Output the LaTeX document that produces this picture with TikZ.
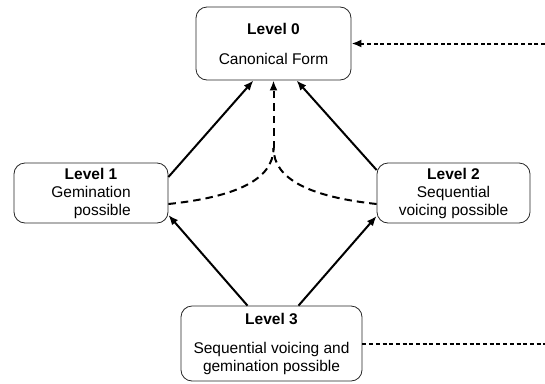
\documentclass[tikz,border=0pt]{standalone}
\usepackage{fontspec}
\setmainfont{Liberation Sans}
\usetikzlibrary{arrows.meta}

\begin{document}
\begin{tikzpicture}[x=1pt,y=-1pt,
    level/.style={draw=black!85,line width=0.8pt,rounded corners=11pt,align=center,
        inner sep=0pt,font=\fontsize{15.5}{18}\selectfont},
    solidarrow/.style={-{Latex[length=10pt,width=8pt]},line width=2pt},
    dasharrow/.style={line width=2pt,dash pattern=on 7.5pt off 5pt},
    dotarrow/.style={line width=2pt,dash pattern=on 4pt off 2.7pt}]
    \useasboundingbox (0,0) rectangle (545,383);

    % Levels
    \node[level,minimum width=155pt,minimum height=73pt] (lvl0) at (273.5,43.5)
        {\textbf{Level 0}\\[12pt]Canonical Form};
    \node[level,minimum width=154pt,minimum height=60pt] (lvl1) at (91,193)
        {\textbf{Level 1}\\Gemination\\\hspace*{\fill}possible};
    \node[level,minimum width=153pt,minimum height=60pt] (lvl2) at (453.5,193)
        {\textbf{Level 2}\\Sequential\\voicing possible};
    \node[level,minimum width=181pt,minimum height=75pt] (lvl3) at (271.5,343.5)
        {\textbf{Level 3}\\[11pt]Sequential voicing and\\gemination possible};

    % Solid arrows
    \draw[solidarrow] ([yshift=16pt]lvl1.east) -- ([xshift=-20pt]lvl0.south);
    \draw[solidarrow] ([yshift=23pt]lvl2.west) -- ([xshift=23pt]lvl0.south);
    \draw[solidarrow] ([xshift=-24pt]lvl3.north) -- ([yshift=-22pt]lvl1.east);
    \draw[solidarrow] ([xshift=27pt]lvl3.north) -- ([yshift=-23pt]lvl2.west);

    % Dashed merge
    \coordinate (merge) at (273.5,148);
    \draw[dasharrow] ([yshift=-11pt]lvl1.east) .. controls (235,197) and (273.5,180) .. (merge);
    \draw[dasharrow] ([yshift=-11pt]lvl2.west) .. controls (312,197) and (273.5,180) .. (merge);
    \draw[dasharrow,-{Latex[length=10pt,width=8pt]}] (merge) -- (lvl0.south);

    % Dotted links at the right edge
    \coordinate (in0) at (545,43.5);
    \coordinate (out3) at (545,343.5);
    \draw[dotarrow,-{Latex[length=10pt,width=8pt]}] (in0) -- (lvl0.east);
    \draw[dotarrow] (lvl3.east) -- (out3);
\end{tikzpicture}
\end{document}
